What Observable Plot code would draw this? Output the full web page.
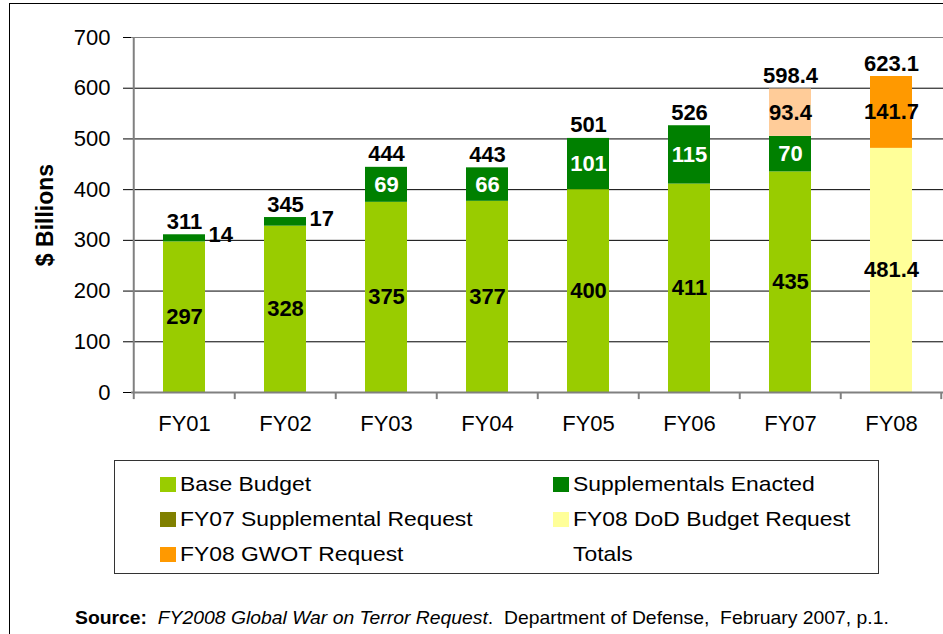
<!DOCTYPE html>
<html>
<head>
<meta charset="utf-8">
<script src="https://cdn.jsdelivr.net/npm/d3@7"></script>
<script src="https://cdn.jsdelivr.net/npm/@observablehq/plot@0.6"></script>
<style>
  html, body { margin: 0; padding: 0; background: #fff; overflow: hidden; width: 943px; height: 634px; }
  body { position: relative; font-family: "Liberation Sans", Arial, sans-serif; }
  #frame { position: absolute; left: 9px; top: 3px; width: 1000px; height: 700px; border: 1px solid #000; box-sizing: border-box; }
  #chart { position: absolute; left: 0; top: 0; }
  #legend { position: absolute; left: 114px; top: 460px; width: 765px; height: 114px; border: 1px solid #333; box-sizing: border-box; background: #fff; }
  .item { position: absolute; font-size: 21px; line-height: 24px; color: #000; white-space: nowrap; }
  .sw { display: inline-block; width: 16px; height: 15px; margin-right: 4px; vertical-align: -1px; }
  .lab { display: inline-block; transform: scaleX(1.09); transform-origin: left center; }
  #source { position: absolute; left: 75px; top: 607px; font-size: 19px; line-height: 22px; color: #000; white-space: nowrap; transform: scaleX(1.018); transform-origin: left center; }
</style>
</head>
<body>
<div id="frame"></div>
<div id="chart"></div>
<div id="legend"></div>
<div id="source"><b>Source:</b>&nbsp; <i>FY2008 Global War on Terror Request</i>.&nbsp; Department of Defense,&nbsp; February 2007, p.1.</div>
<script>
const years = ["FY01", "FY02", "FY03", "FY04", "FY05", "FY06", "FY07", "FY08"];
const baseBudget = [297, 328, 375, 377, 400, 411, 435, null];
const supplementalsEnacted = [14, 17, 69, 66, 101, 115, 70, null];
const fy07SupplementalRequest = [null, null, null, null, null, null, 93.4, null];
const fy08DodBudgetRequest = [null, null, null, null, null, null, null, 481.4];
const fy08GwotRequest = [null, null, null, null, null, null, null, 141.7];
const totals = [311, 345, 444, 443, 501, 526, 598.4, 623.1];
const seriesNames = ["Base Budget", "Supplementals Enacted", "FY07 Supplemental Request", "FY08 DoD Budget Request", "FY08 GWOT Request"];
const barColors = ["#99CC00", "#008000", "#FFCC99", "#FFFF99", "#FF9900"];
const legendColors = ["#99CC00", "#008000", "#808000", "#FFFF99", "#FF9900"];
const legendLabels = ["Base Budget", "Supplementals Enacted", "FY07 Supplemental Request", "FY08 DoD Budget Request", "FY08 GWOT Request", "Totals"];
const yTicks = [0, 100, 200, 300, 400, 500, 600, 700];

const seriesValues = [baseBudget, supplementalsEnacted, fy07SupplementalRequest, fy08DodBudgetRequest, fy08GwotRequest];
const rows = [];
years.forEach((yr, i) => {
  seriesValues.forEach((vals, s) => {
    if (vals[i] != null) rows.push({year: yr, series: seriesNames[s], value: vals[i], color: barColors[s]});
  });
});
const totalRows = years.map((yr, i) => ({year: yr, total: totals[i]}));

const isSmallSupp = d => d.series === "Supplementals Enacted" && d.value < 30;
const halfStep = (943 - 131) / years.length / 2;

const chart = Plot.plot({
  width: 943,
  height: 442,
  marginLeft: 131,
  marginRight: 0,
  marginTop: 37,
  marginBottom: 50,
  style: {fontFamily: "'Liberation Sans', Arial, sans-serif", fontSize: "22px", color: "#000", background: "transparent"},
  x: {domain: years, paddingInner: 0.585, paddingOuter: 0.2925, tickSize: 0, tickPadding: 23, label: null},
  y: {domain: [0, 700], ticks: yTicks, tickSize: 8, tickPadding: 13, label: null},
  color: {type: "identity"},
  marks: [
    Plot.ruleY(yTicks.filter(t => t > 0), {stroke: t => t === 700 ? "#808080" : "#000", strokeWidth: 1, strokeOpacity: 1}),
    Plot.barY(rows, Plot.stackY({x: "year", y: "value", z: "series", order: seriesNames, fill: "color"})),
    Plot.ruleY([0], {stroke: "#808080", strokeWidth: 2}),
    Plot.ruleX([years[0]], {x: d => d, dx: -halfStep, y1: 0, y2: 700, stroke: "#808080", strokeWidth: 2}),
    Plot.ruleX(years, {x: d => d, dx: -halfStep, y1: -14, y2: 0, stroke: "#808080", strokeWidth: 2}),
    Plot.ruleX([years[years.length - 1]], {x: d => d, dx: halfStep - 1, y1: -14, y2: 0, stroke: "#808080", strokeWidth: 2}),
    Plot.text(rows, Plot.stackY({
      x: "year", y: "value", z: "series", order: seriesNames,
      text: d => isSmallSupp(d) ? "" : String(d.value),
      fill: d => d.series === "Supplementals Enacted" ? "#fff" : "#000",
      fontWeight: "bold", fontSize: 22
    })),
    Plot.text(rows, Plot.stackY({
      x: "year", y: "value", z: "series", order: seriesNames,
      text: d => isSmallSupp(d) ? String(d.value) : "",
      fill: "#000", fontWeight: "bold", fontSize: 22, textAnchor: "start", dx: 24, dy: -3
    })),
    Plot.text(totalRows, {x: "year", y: "total", text: d => String(d.total), dy: -13, fill: "#000", fontWeight: "bold", fontSize: 22}),
    Plot.text(["$ Billions"], {frameAnchor: "left", text: d => d, textAnchor: "middle", rotate: -90, dx: -86, fontWeight: "bold", fontSize: 23, fill: "#000"})
  ]
});
document.getElementById("chart").appendChild(chart);

const legend = document.getElementById("legend");
const positions = [[45, 11], [438, 11], [45, 46], [438, 46], [45, 81], [438, 81]];
legendLabels.forEach((lab, i) => {
  const el = document.createElement("div");
  el.className = "item";
  el.style.left = positions[i][0] + "px";
  el.style.top = positions[i][1] + "px";
  const sw = document.createElement("span");
  sw.className = "sw";
  sw.style.background = i < legendColors.length ? legendColors[i] : "transparent";
  el.appendChild(sw);
  const t = document.createElement("span");
  t.className = "lab";
  t.textContent = lab;
  el.appendChild(t);
  legend.appendChild(el);
});
</script>
</body>
</html>
